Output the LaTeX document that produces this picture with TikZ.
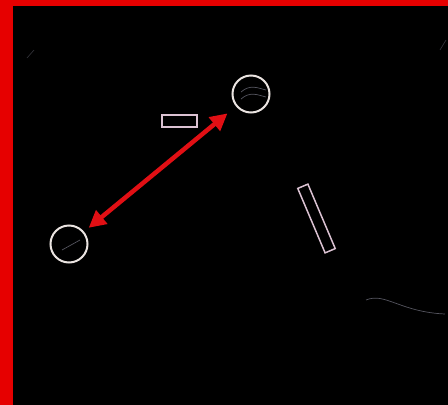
\documentclass[tikz,border=0pt]{standalone}
\usetikzlibrary{arrows.meta}
\definecolor{bordred}{RGB}{230,0,0}
\definecolor{arrred}{RGB}{225,15,20}
\definecolor{ring}{RGB}{235,228,225}
\definecolor{faint}{RGB}{120,120,135}
\tikzset{
  ringnode/.style={circle,draw=ring,line width=2pt,minimum size=37pt,inner sep=0pt},
  boxnode/.style={rectangle,draw=ring!85!violet,line width=1.5pt,inner sep=0pt},
  bigarrow/.style={draw=arrred,line width=4.5pt,{Triangle[length=17pt,width=17pt]}-{Triangle[length=17pt,width=17pt]}},
  faintline/.style={draw=faint,line width=0.7pt,opacity=0.7}
}
\begin{document}
\begin{tikzpicture}[x=1pt,y=-1pt]
\fill[black] (0,0) rectangle (448,405);
\useasboundingbox (0,0) rectangle (448,405);
\fill[bordred] (0,0) rectangle (448,6);
\fill[bordred] (0,0) rectangle (13,405);
% faint background marks
\draw[faintline] (366,300) .. controls (385,292) and (400,312) .. (445,314);
\draw[faintline] (241,92) .. controls (250,84) and (258,88) .. (266,90);
\draw[faintline] (241,99) .. controls (250,91) and (258,95) .. (266,97);
\draw[faintline] (62,250) -- (80,240);
\draw[faintline,opacity=0.4] (27,58) -- (34,50);
\draw[faintline,opacity=0.4] (440,50) -- (446,40);
% nodes
\node[ringnode] (c1) at (251,94) {};
\node[ringnode] (c2) at (69,244) {};
\node[boxnode,minimum width=35pt,minimum height=12pt] (r1) at (179.5,121) {};
\node[boxnode,minimum width=70pt,minimum height=11pt,rotate=-67] (r2) at (316.5,218.5) {};
% arrow
\draw[bigarrow,shorten <=6pt,shorten >=11pt] (c2) -- (c1);
\end{tikzpicture}
\end{document}
